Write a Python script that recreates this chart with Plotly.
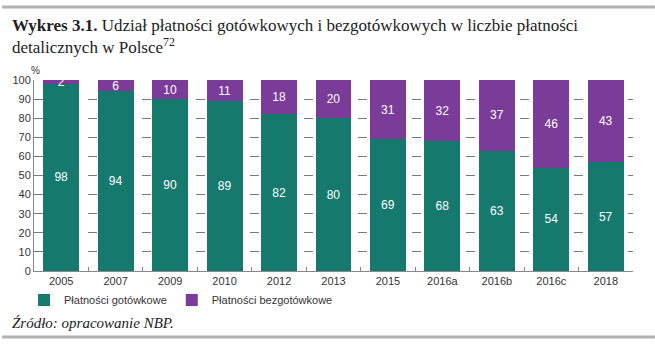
import plotly.graph_objects as go

categories = ["2005", "2007", "2009", "2010", "2012", "2013", "2015", "2016a", "2016b", "2016c", "2018"]
cash = [98, 94, 90, 89, 82, 80, 69, 68, 63, 54, 57]
noncash = [2, 6, 10, 11, 18, 20, 31, 32, 37, 46, 43]
series_names = ["Płatności gotówkowe", "Płatności bezgotówkowe"]
y_ticks = [0, 10, 20, 30, 40, 50, 60, 70, 80, 90, 100]

TEAL = "#16796e"
PURPLE = "#7b3b98"

W, H = 655, 345
L, R, T, B = 32, 22, 80, 74
pw, ph = W - L - R, H - T - B

def px(x):
    return (x - L) / pw

def py(y):
    return (H - B - y) / ph

fig = go.Figure()
for name, vals, col in [(series_names[0], cash, TEAL), (series_names[1], noncash, PURPLE)]:
    fig.add_trace(go.Bar(
        x=categories, y=vals, name=name, marker=dict(color=col, line=dict(width=0)),
        text=[str(v) for v in vals], textposition="inside", insidetextanchor="middle", textangle=0,
        textfont=dict(color="white", size=12, family="Arial"), cliponaxis=False,
    ))

fig.update_layout(
    barmode="stack", bargap=0.34,
    width=W, height=H, margin=dict(l=L, r=R, t=T, b=B),
    plot_bgcolor="white", paper_bgcolor="white",
    font=dict(family="Liberation Sans, Arial", size=11, color="#333333"),
    uniformtext=dict(minsize=12, mode="show"),
    showlegend=True,
    legend=dict(orientation="h", x=px(22), y=py(300), xanchor="left", yanchor="middle",
                font=dict(size=11, color="#333333"), traceorder="normal",
                bgcolor="rgba(0,0,0,0)"),
    xaxis=dict(showline=True, linecolor="#888888", linewidth=1, ticks="inside", tickson="boundaries",
               ticklen=4, tickcolor="#888888", showgrid=False, tickfont=dict(size=11, color="#333333")),
    yaxis=dict(range=[0, 100], tickvals=y_ticks, showline=True, linecolor="#888888", linewidth=1,
               showgrid=True, gridcolor="#7a7a7a", griddash="9px,9px", gridwidth=1, zeroline=False,
               ticks="", tickfont=dict(size=11, color="#333333")),
)

# Title, unit, source
fig.add_annotation(xref="paper", yref="paper", x=px(8), y=py(14), xanchor="left", yanchor="top",
                   align="left", showarrow=False,
                   text="<b>Wykres 3.1.</b> Udział płatności gotówkowych i bezgotówkowych w liczbie płatności<br>detalicznych w Polsce<sup>72</sup>",
                   font=dict(family="Liberation Serif, Times New Roman", size=17, color="#222222"))
fig.add_annotation(xref="paper", yref="paper", x=px(34), y=py(70), xanchor="center", yanchor="middle",
                   showarrow=False, text="%", font=dict(size=10, color="#333333"))
fig.add_annotation(xref="paper", yref="paper", x=px(8), y=py(323), xanchor="left", yanchor="middle",
                   showarrow=False, text="<i>Źródło: opracowanie NBP.</i>",
                   font=dict(family="Liberation Serif, Times New Roman", size=15, color="#222222"))

# Horizontal rules
for yy in (7, 337):
    fig.add_shape(type="line", xref="paper", yref="paper", x0=px(0), x1=px(W), y0=py(yy), y1=py(yy),
                  line=dict(color="#b0b0b0", width=3))

fig.write_html("out.html")
